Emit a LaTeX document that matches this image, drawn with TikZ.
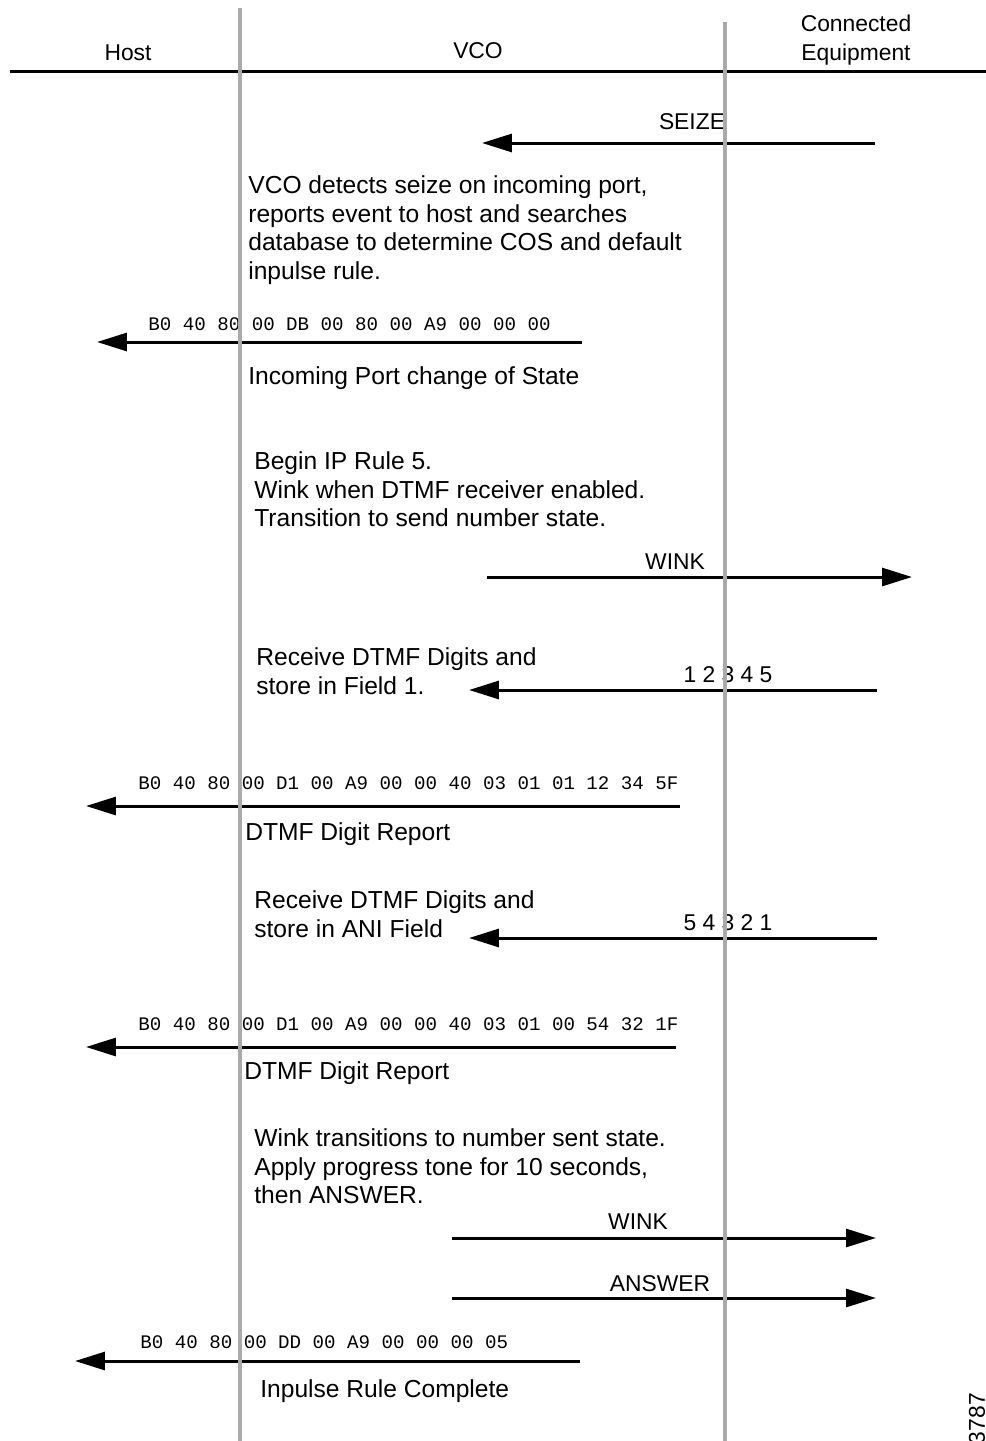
\documentclass[tikz,border=0pt]{standalone}
\usepackage{fontspec}
\setmainfont{Liberation Sans}
\setmonofont{Liberation Mono}
\usepackage{tikz}
\usetikzlibrary{arrows.meta}
\definecolor{lifegray}{RGB}{170,170,170}

\begin{document}
\begin{tikzpicture}[
  x=0.02cm,y=-0.02cm,
  font=\fontsize{13}{16.44}\selectfont,
  lbl/.style={inner sep=0pt,anchor=base},
  note/.style={inner sep=0pt,anchor=north west,align=left,font=\fontsize{14}{16.44}\selectfont},
  noteline/.style={note,anchor=base west},
  hex/.style={inner sep=0pt,anchor=base west,font=\ttfamily\fontsize{10.9}{13}\selectfont},
  msg/.style={-{Triangle[length=0.6cm,width=0.36cm]},line width=0.06cm},
  life/.style={draw=lifegray,line width=0.08cm}
]
  \useasboundingbox (0,0) rectangle (986,1441);

  % header
  \node[lbl] (host) at (128,60) {Host};
  \node[lbl] (vco) at (478,58) {VCO};
  \node[inner sep=0pt,anchor=north,align=center] (ce) at (856,15) {Connected\\Equipment};
  \coordinate (hl) at (10,71); \coordinate (hr) at (986,71);
  \draw[line width=0.06cm] (hl)--(hr);

  % seize
  \coordinate (sz1) at (875,143); \coordinate (sz2) at (482,143);
  \draw[msg] (sz1)--(sz2);
  \node[lbl] (seize) at (692,129) {SEIZE};
  \node[note] (detect) at (248,175) {VCO detects seize on incoming port,\\reports event to host and searches\\database to determine COS and default\\inpulse rule.};

  \coordinate (cs1) at (582,342); \coordinate (cs2) at (97,342);
  \draw[msg] (cs1)--(cs2);
  \node[hex] (cshex) at (148,330) {B0 40 80 00 DB 00 80 00 A9 00 00 00};
  \node[noteline] (cs) at (248,384) {Incoming Port change of State};

  % wink
  \node[note] (rule) at (254,451) {Begin IP Rule 5.\\Wink when DTMF receiver enabled.\\Transition to send number state.};
  \coordinate (wk1) at (487,577); \coordinate (wk2) at (912,577);
  \draw[msg] (wk1)--(wk2);
  \node[lbl] (wink) at (675,569) {WINK};

  % digits 1
  \node[note] (rcv1) at (256,647) {Receive DTMF Digits and\\store in Field 1.};
  \coordinate (dg1) at (877,690); \coordinate (dg2) at (469,690);
  \draw[msg] (dg1)--(dg2);
  \node[lbl] (dig) at (728,682) {1 2 3 4 5};

  \coordinate (dr1) at (680,806); \coordinate (dr2) at (86,806);
  \draw[msg] (dr1)--(dr2);
  \node[hex] (drhex) at (138,789) {B0 40 80 00 D1 00 A9 00 00 40 03 01 01 12 34 5F};
  \node[noteline] (dr) at (245,840) {DTMF Digit Report};

  % digits 2
  \node[note] (rcv2) at (254,890) {Receive DTMF Digits and\\store in ANI Field};
  \coordinate (an1) at (877,938); \coordinate (an2) at (469,938);
  \draw[msg] (an1)--(an2);
  \node[lbl] (ani) at (728,930) {5 4 3 2 1};

  \coordinate (ar1) at (676,1047); \coordinate (ar2) at (86,1047);
  \draw[msg] (ar1)--(ar2);
  \node[hex] (arhex) at (138,1030) {B0 40 80 00 D1 00 A9 00 00 40 03 01 00 54 32 1F};
  \node[noteline] (ar) at (244,1079) {DTMF Digit Report};

  % answer
  \node[note] (sent) at (254,1128) {Wink transitions to number sent state.\\Apply progress tone for 10 seconds,\\then ANSWER.};
  \coordinate (w21) at (452,1238); \coordinate (w22) at (876,1238);
  \draw[msg] (w21)--(w22);
  \node[lbl] (wink2) at (638,1229) {WINK};
  \coordinate (as1) at (452,1298); \coordinate (as2) at (876,1298);
  \draw[msg] (as1)--(as2);
  \node[lbl] (answer) at (660,1291) {ANSWER};

  \coordinate (rc1) at (580,1361); \coordinate (rc2) at (75,1361);
  \draw[msg] (rc1)--(rc2);
  \node[hex] (rchex) at (140,1348) {B0 40 80 00 DD 00 A9 00 00 00 05};
  \node[noteline] (rc) at (260,1397) {Inpulse Rule Complete};

  % lifelines on top
  \coordinate (hostT) at (240,8); \coordinate (hostB) at (240,1441);
  \coordinate (ceT) at (725,22); \coordinate (ceB) at (725,1441);
  \draw[life] (hostT)--(hostB);
  \draw[life] (ceT)--(ceB);

  \node[inner sep=0pt,rotate=90] (figid) at (977,1425) {53787};
\end{tikzpicture}
\end{document}
